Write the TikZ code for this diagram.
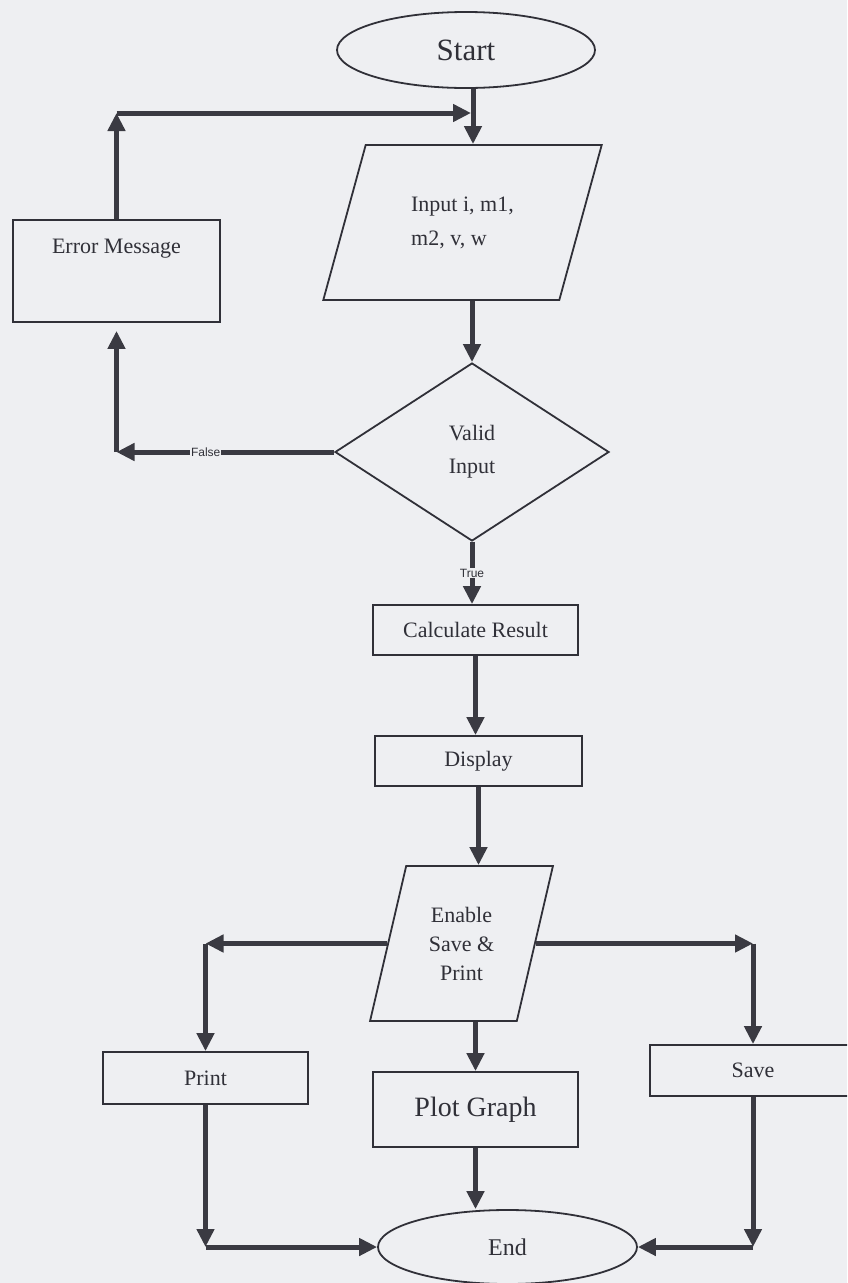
\documentclass[tikz,border=0pt]{standalone}
\usepackage{fontspec}
\setmainfont{Liberation Serif}
\newfontfamily\labelsans{Liberation Sans}
\usetikzlibrary{shapes.geometric,arrows.meta,calc}
\definecolor{paper}{RGB}{238,239,242}
\definecolor{ink}{RGB}{48,48,56}
\definecolor{flow}{RGB}{58,58,66}

\begin{document}
\begin{tikzpicture}[x=1pt,y=-1pt,
  every node/.style={font=\fontsize{22}{26}\selectfont, text=ink},
  outline/.style={draw=ink, line width=1.8pt},
  procbox/.style={outline, rectangle, inner sep=0pt},
  terminal/.style={outline, ellipse, inner sep=0pt},
  iobox/.style={outline, trapezium, trapezium stretches=true, inner sep=0pt},
  decision/.style={outline, diamond, inner sep=0pt, aspect=1.54},
  flowline/.style={draw=flow, line width=5pt, -{Triangle[length=18pt,width=17pt]}},
  tag/.style={font=\labelsans\fontsize{12}{14}\selectfont, fill=paper, inner sep=1pt}
]
\useasboundingbox (0,0) rectangle (847,1283);
\clip (0,0) rectangle (847,1283);
\fill[paper] (0,0) rectangle (847,1283);

% ---- shapes ----
\node[terminal, minimum width=258pt, minimum height=76pt,
      font=\fontsize{31}{36}\selectfont] (start) at (466,50) {Start};
\node[iobox, trapezium left angle=66.6, trapezium right angle=113.4,
      minimum width=279pt, minimum height=155pt, align=left,
      font=\fontsize{22}{34}\selectfont] (input) at (462.5,222.5) {Input i, m1,\\m2, v, w};
\node[decision, minimum width=274pt, minimum height=178pt, align=center,
      font=\fontsize{22}{33}\selectfont] (check) at (472,452) {Valid\\Input};
\node[procbox, minimum width=205pt, minimum height=50pt] (calc) at (475.5,630) {Calculate Result};
\node[procbox, minimum width=207pt, minimum height=50pt] (show) at (478.5,761) {Display};
\node[iobox, trapezium left angle=73.8, trapezium right angle=106.2,
      minimum width=183pt, minimum height=155pt, align=center,
      font=\fontsize{22}{29}\selectfont] (enable) at (461.5,943.5) {Enable\\Save \&\\Print};
\node[procbox, minimum width=205pt, minimum height=52pt] (print) at (205.5,1078) {Print};
\node[procbox, minimum width=205pt, minimum height=75pt,
      font=\fontsize{28}{32}\selectfont] (plot) at (475.5,1109.5) {Plot Graph};
\node[procbox, minimum width=206pt, minimum height=51pt] (save) at (753,1070.5) {Save};
\node[terminal, minimum width=259pt, minimum height=74pt,
      font=\fontsize{24}{28}\selectfont] (end) at (507.5,1247) {End};
\node[procbox, minimum width=207pt, minimum height=102pt] (err) at (116.5,271) {};
\node (errtext) at ($(err.north)+(0,30)$) {Error Message};

% ---- corner points ----
\coordinate (topjoin) at (473,113);
\coordinate (uplft) at (err.north |- topjoin);
\coordinate (fcorner) at (err.south |- check.west);
\coordinate (lcorner) at (print.north |- enable.west);
\coordinate (rcorner) at (save.north |- enable.east);
\coordinate (blcorner) at (print.south |- end.west);
\coordinate (brcorner) at (save.south |- end.east);

% ---- connectors ----
\draw[flowline] (start.south -| topjoin) -- (input.north -| topjoin);
\draw[flowline] (err.north) -- (uplft);
\draw[flowline, shorten >=2pt] (uplft) -- (topjoin);
\draw[flowline] (input.south -| check.north) -- (check.north);
\draw[flowline] (check.west) -- node[tag, pos=0.59] {False} (fcorner);
\draw[flowline, shorten >=8pt] (fcorner) -- (err.south);
\draw[flowline] (check.south) -- node[tag, pos=0.5] {True} (check.south |- calc.north);
\draw[flowline] (calc.south) -- (calc.south |- show.north);
\draw[flowline] (show.south) -- (show.south |- enable.north);
\draw[flowline] (enable.west) -- (lcorner);
\draw[flowline] (lcorner) -- (print.north);
\draw[flowline] (enable.east) -- (rcorner);
\draw[flowline] (rcorner) -- (save.north);
\draw[flowline] (enable.south -| plot.north) -- (plot.north);
\draw[flowline] (plot.south) -- (plot.south |- end.north);
\draw[flowline] (print.south) -- (blcorner);
\draw[flowline] (blcorner) -- (end.west);
\draw[flowline] (save.south) -- (brcorner);
\draw[flowline] (brcorner) -- (end.east);
\end{tikzpicture}
\end{document}
